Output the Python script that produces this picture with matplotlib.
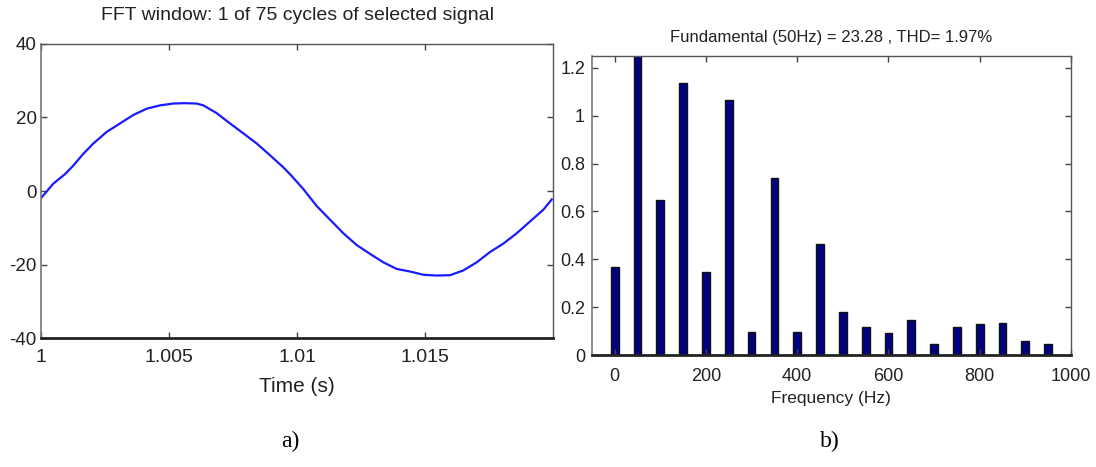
import matplotlib
matplotlib.use("Agg")
import matplotlib.pyplot as plt
from matplotlib import font_manager

# Signal window (one cycle of the selected signal), time in ms after t = 1 s
time_ms = [0.03, 0.48, 0.94, 1.26, 1.65, 2.04, 2.57, 3.09, 3.61, 4.13, 4.65,
           5.17, 5.60, 6.08, 6.34, 6.86, 7.38, 7.90, 8.43, 8.95, 9.47, 9.79,
           10.25, 10.77, 11.29, 11.81, 12.33, 12.85, 13.37, 13.89, 14.41,
           14.94, 15.45, 15.98, 16.50, 17.02, 17.54, 18.06, 18.58, 19.10,
           19.62, 19.95]
signal = [-1.7, 2.0, 4.6, 6.9, 10.1, 12.9, 16.1, 18.4, 20.7, 22.4, 23.3,
          23.8, 23.9, 23.8, 23.3, 21.2, 18.4, 15.7, 12.9, 9.7, 6.4, 4.1,
          0.5, -4.1, -7.8, -11.5, -14.7, -17.1, -19.4, -21.2, -21.9,
          -22.8, -23.0, -22.9, -21.6, -19.4, -16.6, -14.3, -11.5, -8.3,
          -5.1, -2.3]

# Harmonic spectrum (% of fundamental)
freq_hz = [0, 50, 100, 150, 200, 250, 300, 350, 400, 450,
           500, 550, 600, 650, 700, 750, 800, 850, 900, 950]
magnitude = [0.366, 100.0, 0.648, 1.138, 0.345, 1.067, 0.096, 0.742, 0.096, 0.464,
             0.179, 0.116, 0.091, 0.147, 0.047, 0.116, 0.128, 0.134, 0.059, 0.047]

time_ticks = [1.0, 1.005, 1.01, 1.015]
time_labels = ["1", "1.005", "1.01", "1.015"]
volt_ticks = [-40, -20, 0, 20, 40]
freq_ticks = [0, 200, 400, 600, 800, 1000]
mag_ticks = [0, 0.2, 0.4, 0.6, 0.8, 1.0, 1.2]
mag_labels = ["0", "0.2", "0.4", "0.6", "0.8", "1", "1.2"]

left_title = "FFT window: 1 of 75 cycles of selected signal"
right_title = "Fundamental (50Hz) = 23.28 , THD= 1.97%"

names = {f.name for f in font_manager.fontManager.ttflist}
narrow = "Liberation Sans Narrow" if "Liberation Sans Narrow" in names else "Liberation Sans"
plt.rcParams["font.family"] = [narrow, "DejaVu Sans"]
plt.rcParams["axes.unicode_minus"] = False

fig = plt.figure(figsize=(10.96, 4.67), dpi=100)

def style_axes(ax):
    ax.tick_params(direction="in", top=True, right=True, length=4, width=1,
                   color="#444444", labelcolor="#222222")
    for side in ("top", "right"):
        ax.spines[side].set_color("#555555")
        ax.spines[side].set_linewidth(1.0)
    ax.spines["left"].set_color("#777777")
    ax.spines["left"].set_linewidth(1.2)
    ax.spines["bottom"].set_color("#222222")
    ax.spines["bottom"].set_linewidth(2.0)

# a) time signal
time_s = [1.0 + t / 1000.0 for t in time_ms]
ax1 = fig.add_axes([0.0374, 0.2762, 0.4672, 0.6296])
ax1.plot(time_s, signal, color="#1a1aff", lw=1.6)
ax1.set_xlim(1.0, 1.02)
ax1.set_ylim(-40, 40)
ax1.set_xticks(time_ticks)
ax1.set_xticklabels(time_labels)
ax1.set_yticks(volt_ticks)
style_axes(ax1)
ax1.tick_params(axis="y", labelsize=13.5, pad=3)
ax1.tick_params(axis="x", labelsize=14, pad=8)
ax1.set_title(left_title, fontsize=14, pad=17, color="#222222")
ax1.set_xlabel("Time (s)", fontsize=15, labelpad=8, color="#222222")

# b) spectrum
ax2 = fig.add_axes([0.5401, 0.2398, 0.4370, 0.6403])
ax2.bar(freq_hz, magnitude, width=17, color="#000080", edgecolor="#111111", lw=1.0)
ax2.set_xlim(-50, 1000)
ax2.set_ylim(0, 1.25)
ax2.set_xticks(freq_ticks)
ax2.set_yticks(mag_ticks)
ax2.set_yticklabels(mag_labels)
style_axes(ax2)
ax2.tick_params(axis="y", labelsize=13, pad=5)
ax2.tick_params(axis="x", labelsize=13, pad=9)
ax2.set_title(right_title, fontsize=12, pad=10, color="#222222")
ax2.set_xlabel("Frequency (Hz)", fontsize=12.5, labelpad=5, color="#222222")

fig.text(0.265, 0.055, "a)", fontsize=17, family=["Liberation Serif", "DejaVu Serif"],
         ha="center", va="center")
fig.text(0.757, 0.055, "b)", fontsize=17, family=["Liberation Serif", "DejaVu Serif"],
         ha="center", va="center")

fig.savefig("out.png", dpi=100, facecolor="white")
